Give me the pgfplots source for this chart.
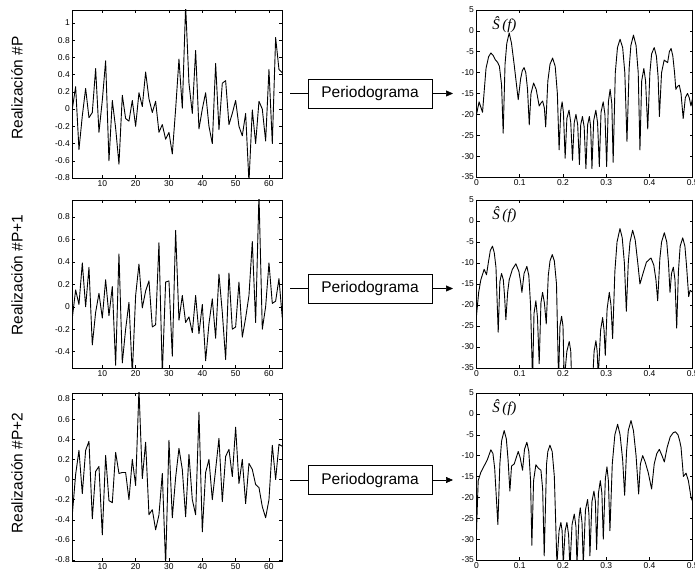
\documentclass[border=0pt]{standalone}
\usepackage{fontspec}
\setmainfont{Liberation Sans}
\newfontfamily\serifit{Liberation Serif}
\usepackage{pgfplots}
\pgfplotsset{compat=1.18}
\usetikzlibrary{arrows.meta}
\tikzset{shat/.style={anchor=north west, inner sep=0pt, font=\serifit\itshape\fontsize{15}{16}\selectfont}}
\pgfplotsset{
  base/.style={scale only axis, tick align=inside, major tick length=3pt,
    axis line style={line width=0.9pt}, every tick/.style={black,line width=0.5pt},
    tick label style={font=\fontsize{8.5}{9}\selectfont},
    /pgf/number format/assume math mode=true,
    yticklabel style={xshift=1pt}, xticklabel style={yshift=1pt},
    clip=true},
  left/.style={base, width=210pt, height=168pt, xmin=1, xmax=64, xtick={10,20,30,40,50,60}},
  right/.style={base, width=216.2pt, height=167pt, xmin=0, xmax=0.5,
    xtick={0,0.1,0.2,0.3,0.4,0.5}, ymin=-35, ymax=5, ytick={-35,-30,-25,-20,-15,-10,-5,0,5},
    xticklabel style={/pgf/number format/fixed}},
  ser/.style={black, line width=0.9pt, line join=round},
}
\begin{document}
\begin{tikzpicture}
\useasboundingbox (0,0) rectangle (695pt,575pt);
% ---------- left 1
\begin{axis}[left, at={(72.3pt,397pt)}, anchor=south west, ymin=-0.8, ymax=1.15,
  ytick={-0.8,-0.6,-0.4,-0.2,0,0.2,0.4,0.6,0.8,1}]
\addplot[ser] coordinates {(1,0.0)(2,0.26)(3,-0.47)(4,-0.08)(5,0.24)(6,-0.1)(7,-0.04)(8,0.47)(9,-0.27)(10,0.1)(11,0.56)(12,-0.6)(13,0.1)(14,-0.22)(15,-0.64)(16,0.16)(17,-0.11)(18,-0.14)(19,0.1)(20,-0.2)(21,0.19)(22,0.03)(23,0.43)(24,0.12)(25,-0.04)(26,0.09)(27,-0.27)(28,-0.18)(29,-0.35)(30,-0.27)(31,-0.52)(32,0.0)(33,0.58)(34,0.01)(35,1.2)(36,0.3)(37,-0.05)(38,0.68)(39,-0.23)(40,0.0)(41,0.19)(42,-0.2)(43,-0.4)(44,0.53)(45,-0.24)(46,0.3)(47,0.33)(48,-0.18)(49,-0.05)(50,0.1)(51,-0.2)(52,-0.31)(53,-0.05)(54,-0.85)(55,-0.01)(56,-0.4)(57,0.09)(58,0.0)(59,-0.37)(60,0.46)(61,-0.4)(62,0.83)(63,0.46)(64,0.42)};
\end{axis}
% ---------- left 2
\begin{axis}[left, at={(72.3pt,207pt)}, anchor=south west, ymin=-0.545, ymax=0.95,
  ytick={-0.4,-0.2,0,0.2,0.4,0.6,0.8}]
\addplot[ser] coordinates {(1,-0.1)(2,0.15)(3,0.02)(4,0.39)(5,0.0)(6,0.35)(7,-0.34)(8,-0.05)(9,0.12)(10,-0.1)(11,0.24)(12,-0.08)(13,0.18)(14,-0.52)(15,0.47)(16,-0.5)(17,-0.2)(18,0.04)(19,-0.6)(20,0.1)(21,0.38)(22,-0.01)(23,0.14)(24,0.23)(25,-0.18)(26,-0.16)(27,0.57)(28,-0.6)(29,0.22)(30,0.23)(31,-0.44)(32,0.68)(33,-0.12)(34,0.1)(35,-0.14)(36,-0.09)(37,-0.23)(38,0.1)(39,-0.24)(40,0.02)(41,-0.48)(42,-0.15)(43,0.07)(44,-0.28)(45,0.29)(46,-0.05)(47,-0.47)(48,0.3)(49,-0.2)(50,-0.18)(51,0.22)(52,-0.27)(53,-0.1)(54,0.1)(55,0.58)(56,-0.14)(57,1.0)(58,-0.2)(59,0.0)(60,0.39)(61,0.03)(62,0.05)(63,0.25)(64,-0.1)};
\end{axis}
% ---------- left 3
\begin{axis}[left, at={(72.3pt,14pt)}, anchor=south west, ymin=-0.81, ymax=0.86,
  ytick={-0.8,-0.6,-0.4,-0.2,0,0.2,0.4,0.6,0.8}]
\addplot[ser] coordinates {(1,-0.35)(2,0.05)(3,0.29)(4,-0.14)(5,0.29)(6,0.38)(7,-0.39)(8,0.08)(9,0.13)(10,-0.55)(11,0.24)(12,-0.21)(13,-0.23)(14,0.27)(15,0.06)(16,0.07)(17,0.07)(18,-0.2)(19,0.2)(20,-0.06)(21,0.9)(22,0.01)(23,0.37)(24,-0.35)(25,-0.3)(26,-0.5)(27,-0.35)(28,0.06)(29,-0.85)(30,0.39)(31,-0.38)(32,0.02)(33,0.31)(34,0.1)(35,-0.37)(36,0.25)(37,-0.2)(38,-0.35)(39,0.67)(40,-0.52)(41,0.07)(42,0.2)(43,-0.2)(44,0.1)(45,0.41)(46,-0.22)(47,0.23)(48,0.3)(49,0.03)(50,0.52)(51,-0.04)(52,0.2)(53,-0.24)(54,0.16)(55,0.1)(56,-0.05)(57,-0.08)(58,-0.27)(59,-0.38)(60,-0.2)(61,0.34)(62,0.0)(63,0.35)(64,0.33)};
\end{axis}
% ---------- right 1
\begin{axis}[right, at={(476.5pt,398pt)}, anchor=south west]
\addplot[ser] coordinates {(0,-20)(0.006,-17)(0.0139,-19.5)(0.022,-9)(0.028,-6.2)(0.0332,-5.3)(0.038,-5.8)(0.044,-7)(0.0486,-7.5)(0.053,-8.5)(0.058,-13)(0.0617,-24.5)
(0.066,-8)(0.070,-3)(0.0756,-0.5)(0.081,-3)(0.087,-8)(0.0965,-16.5)
(0.102,-11.5)(0.106,-9.5)(0.110,-8.8)(0.114,-10)(0.118,-14)(0.122,-22.5)
(0.126,-15)(0.132,-12.5)(0.138,-14)(0.145,-18)
(0.149,-17.3)(0.153,-16.8)(0.157,-18.5)(0.160,-23)
(0.165,-12)(0.170,-8)(0.176,-6.5)(0.182,-8.5)(0.187,-15)(0.191,-28.5)
(0.195,-19)(0.198,-17)(0.201,-19.5)(0.205,-30.5)
(0.209,-21)(0.214,-19)(0.218,-22)(0.222,-31)
(0.226,-22)(0.230,-20)(0.234,-22.5)(0.238,-32)
(0.241,-22.5)(0.245,-20.5)(0.249,-23)(0.253,-33)
(0.257,-22.5)(0.261,-20.5)(0.264,-23)(0.267,-33)
(0.271,-21.5)(0.276,-19)(0.280,-22)(0.284,-32.5)
(0.288,-19.5)(0.293,-17)(0.297,-20)(0.301,-32.5)
(0.305,-17)(0.309,-14)(0.313,-17.5)(0.316,-31.5)
(0.321,-10)(0.326,-4)(0.332,-2)(0.338,-4)(0.343,-10)(0.348,-26.5)
(0.353,-9)(0.357,-3.5)(0.363,-1)(0.369,-3.5)(0.374,-10)(0.378,-28.5)
(0.382,-12)(0.387,-9)(0.391,-12)(0.396,-23.5)
(0.401,-10)(0.405,-5.5)(0.411,-4)(0.416,-6)(0.420,-11)(0.423,-20.5)
(0.428,-10)(0.434,-7)(0.438,-7.3)(0.442,-7.6)(0.446,-5)(0.450,-4.2)(0.454,-6)(0.458,-10)(0.461,-14)
(0.465,-13.3)(0.469,-13)(0.473,-15)(0.478,-21)
(0.483,-16)(0.488,-15)(0.492,-16)(0.496,-18)(0.5,-16)};
\node[shat] at (rel axis cs:0.072,0.96) {Ŝ\,(f)};
\end{axis}
% ---------- right 2
\begin{axis}[right, at={(476.5pt,207pt)}, anchor=south west, height=168pt]
\addplot[ser] coordinates {(0,-22.5)(0.005,-17)(0.010,-14)(0.0177,-11.5)(0.0231,-12.8)(0.028,-9.5)(0.032,-7)(0.037,-6)(0.041,-7.5)(0.045,-11)(0.0502,-26.5)
(0.054,-14.5)(0.0579,-12.5)(0.062,-14)(0.065,-18)(0.0679,-23.5)
(0.072,-17)(0.0756,-14)(0.083,-11.5)(0.091,-10.2)(0.098,-12)(0.102,-14.5)(0.105,-17)
(0.110,-12.5)(0.1165,-10.8)(0.121,-13)(0.125,-20)(0.1296,-38)
(0.133,-22)(0.1373,-19)(0.141,-23)(0.145,-34)
(0.149,-19.5)(0.1528,-17)(0.157,-19.5)(0.1613,-24.5)
(0.166,-13)(0.170,-9.5)(0.1752,-8)(0.180,-9.5)(0.185,-15)(0.1898,-38)
(0.193,-25)(0.1968,-22.7)(0.200,-25)(0.2029,-38)
(0.209,-31)(0.2145,-28.7)(0.218,-31)(0.220,-38)
(0.230,-40)(0.245,-38)(0.260,-40)(0.2685,-38)
(0.272,-31)(0.2762,-28.5)(0.279,-31)(0.2816,-37)
(0.287,-26)(0.2917,-23)(0.295,-26)(0.2978,-32)
(0.302,-21)(0.3071,-17)(0.311,-20)(0.3148,-28)
(0.320,-12)(0.325,-5)(0.3318,-1.8)(0.337,-4)(0.342,-10)(0.3465,-21.5)
(0.351,-10)(0.355,-5)(0.3611,-2.2)(0.367,-4.5)(0.373,-10)(0.378,-15)
(0.385,-12.5)(0.393,-9.8)(0.4035,-8.8)(0.410,-10.5)(0.415,-14)(0.419,-19)
(0.424,-9)(0.428,-5)(0.4344,-2.8)(0.440,-5)(0.444,-10)(0.4475,-17)
(0.451,-12.5)(0.4552,-11)(0.459,-14)(0.463,-25.5)
(0.467,-12)(0.471,-6)(0.4769,-4)(0.482,-6)(0.486,-11)(0.4907,-18)(0.494,-16.5)(0.5,-17)};
\node[shat] at (rel axis cs:0.072,0.96) {Ŝ\,(f)};
\end{axis}
% ---------- right 3
\begin{axis}[right, at={(476.5pt,15pt)}, anchor=south west]
\addplot[ser] coordinates {(0,-28)(0.0039,-16)(0.010,-14)(0.020,-12)(0.025,-11)(0.0332,-8.6)(0.038,-9.5)(0.042,-13)(0.0494,-26.5)
(0.054,-12)(0.058,-6.5)(0.064,-4)(0.069,-6)(0.073,-11)(0.0772,-18.5)
(0.081,-12.5)(0.0872,-12)(0.0965,-9)(0.101,-10.5)(0.1065,-13.5)
(0.111,-8.5)(0.1165,-6.8)(0.121,-9)(0.125,-16)(0.128,-31.5)
(0.132,-16)(0.1373,-12.2)(0.143,-13)(0.149,-13.5)(0.153,-18)(0.1566,-34)
(0.162,-12)(0.165,-9)(0.1698,-7.5)(0.175,-9)(0.180,-15)(0.186,-36)
(0.191,-28)(0.1952,-26)(0.198,-28)(0.2006,-36)
(0.205,-28)(0.2091,-26)(0.213,-29)(0.216,-37)
(0.221,-26.5)(0.2261,-24)(0.230,-27)(0.2323,-36)
(0.237,-25)(0.240,-22.5)(0.244,-26)(0.2469,-36)
(0.252,-23)(0.2569,-20.5)(0.260,-24)(0.2623,-34)
(0.267,-21)(0.2716,-18.5)(0.275,-21)(0.2778,-32.5)
(0.282,-19)(0.2863,-16)(0.290,-19)(0.2932,-30)
(0.298,-15.5)(0.3017,-12.7)(0.305,-16)(0.3086,-28)
(0.314,-12)(0.320,-5)(0.3264,-2.5)(0.332,-5)(0.338,-11)(0.3426,-19.5)
(0.347,-9)(0.351,-4)(0.3573,-1.6)(0.363,-4)(0.369,-10)(0.375,-19.2)
(0.379,-12)(0.3843,-10)(0.390,-11.5)(0.397,-14)(0.405,-18)
(0.411,-12)(0.417,-9.5)(0.4228,-8.5)(0.429,-10)(0.4344,-11.5)
(0.441,-8)(0.448,-5.5)(0.455,-4.5)(0.4599,-4.3)(0.466,-5)(0.470,-6.5)(0.473,-8)(0.477,-13)(0.4784,-15)(0.4846,-14.2)(0.490,-16)(0.4961,-20)(0.5,-21)};
\node[shat] at (rel axis cs:0.072,0.96) {Ŝ\,(f)};
\end{axis}
% ---------- labels, boxes, arrows
\begin{scope}[font=\fontsize{15.5}{16}\selectfont]
\node[rotate=90] at (17pt,487pt) {Realización \#P};
\node[rotate=90] at (17pt,300pt) {Realización \#P+1};
\node[rotate=90] at (17pt,102pt) {Realización \#P+2};
\foreach \yc in {481.5,286.5,95} {
  \draw[line width=0.6pt] (308pt,\yc pt-14.5pt) rectangle (432pt,\yc pt+14.5pt);
  \node at (370pt,\yc pt) {Periodograma};
  \draw[line width=0.6pt] (290pt,\yc pt) -- (308pt,\yc pt);
  \draw[line width=0.6pt,-{Triangle[length=7pt,width=6pt]}] (432pt,\yc pt) -- (453pt,\yc pt);
}
\end{scope}
\end{tikzpicture}
\end{document}
